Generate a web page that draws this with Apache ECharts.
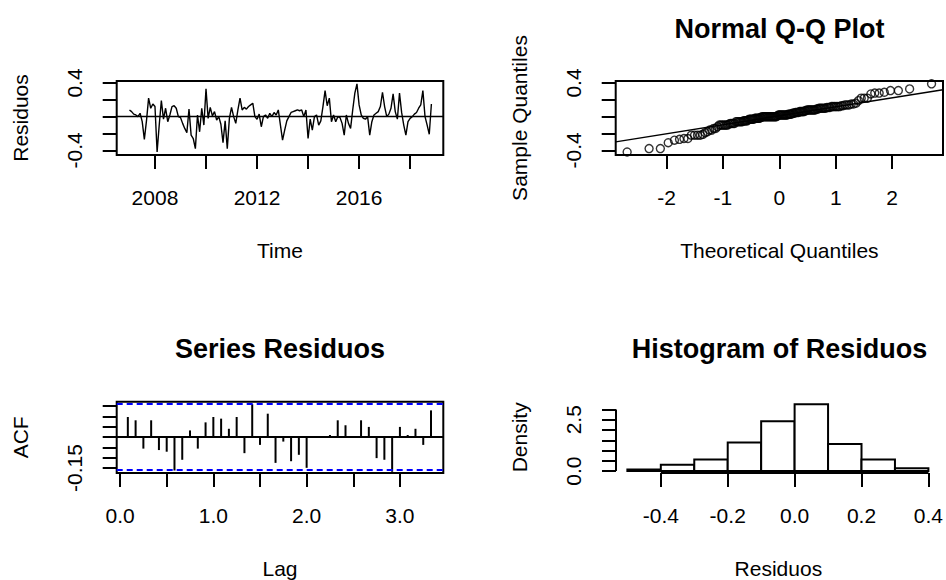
<!DOCTYPE html>
<html><head><meta charset="utf-8">
<script src="https://cdn.jsdelivr.net/npm/echarts@6/dist/echarts.min.js"></script>
<style>html,body{margin:0;padding:0;background:#fff;}#c{width:946px;height:580px;}</style>
</head><body><div id="c"></div>
<script>
// ---------------- data ----------------
const tsStart = 2007;
const tsFreq = 12;
const resid = [
 0.08, 0.06, 0.03, 0.02, 0.00, 0.04,-0.06,-0.27,-0.05, 0.22, 0.10, 0.15,
 0.12,-0.42,-0.10, 0.19,-0.03, 0.10,-0.06, 0.02, 0.12, 0.13, 0.10, 0.00,
-0.01,-0.08,-0.14,-0.19, 0.09,-0.22,-0.26,-0.38, 0.02,-0.18, 0.10,-0.10,
 0.33,-0.02, 0.11, 0.01, 0.06,-0.04, 0.00,-0.09,-0.31,-0.05,-0.38,-0.02,
 0.11, 0.00,-0.08, 0.08, 0.22, 0.08, 0.11, 0.09, 0.12, 0.14, 0.16, 0.00,
-0.03, 0.03,-0.12, 0.00, 0.02,-0.02, 0.04, 0.00, 0.05, 0.02, 0.08,-0.10,
-0.28,-0.16,-0.05, 0.00, 0.05, 0.06, 0.07, 0.08, 0.07, 0.08, 0.00, 0.08,
-0.26,-0.03,-0.16, 0.00, 0.02,-0.10,-0.05, 0.12, 0.31, 0.13, 0.22,-0.06,
 0.02,-0.06, 0.00,-0.01,-0.08,-0.22, 0.02,-0.08,-0.14, 0.08, 0.28, 0.39,
 0.14, 0.02,-0.02,-0.03, 0.00,-0.22,-0.06, 0.02, 0.04, 0.06, 0.12, 0.29,
 0.12, 0.00, 0.03, 0.10, 0.27, 0.06,-0.03, 0.28, 0.05,-0.10,-0.22,-0.06,
-0.02, 0.00, 0.03, 0.05, 0.10, 0.14, 0.31, 0.00,-0.10,-0.21, 0.15
];
const acfVals = [
 0.097, 0.081,-0.056, 0.081,-0.063,-0.071,-0.162,-0.110, 0.032,-0.056,
 0.071, 0.097, 0.089, 0.040, 0.097,-0.078, 0.159,-0.038, 0.113,-0.125,
-0.022,-0.117,-0.086,-0.149, 0.003,-0.004, 0.010, 0.081, 0.057, 0.003,
 0.081, 0.049,-0.102,-0.110,-0.168, 0.049, 0.010, 0.040,-0.038, 0.129
];
const acfCI = 0.1639;
const histBreaks = [-0.5,-0.4,-0.3,-0.2,-0.1,0.0,0.1,0.2,0.3,0.4];
const histDensity = [0.07,0.31,0.56,1.39,2.43,3.26,1.32,0.56,0.14];
const qqLineIntercept = 0.01;
const qqLineSlope = 0.107;
// tick / label values
const tsXTicks = [2008,2010,2012,2014,2016,2018];
const tsXLabels = [2008,2012,2016];
const resYTicks = [-0.4,-0.2,0,0.2,0.4];
const resYLabels = [-0.4,0.4];
const qqXTicks = [-2,-1,0,1,2];
const acfXTicks = [0,0.5,1,1.5,2,2.5,3];
const acfXLabels = [0,1,2,3];
const acfYTicks = [-0.15,-0.1,-0.05,0,0.05,0.1,0.15];
const acfYLabels = [-0.15];
const histXTicks = [-0.4,-0.2,0,0.2,0.4];
const histYTicks = [0,0.5,1,1.5,2,2.5,3];
const histYLabels = [0,2.5];

// ---------------- helpers ----------------
function qnorm(p){
 const a=[-3.969683028665376e+01,2.209460984245205e+02,-2.759285104469687e+02,1.383577518672690e+02,-3.066479806614716e+01,2.506628277459239e+00];
 const b=[-5.447609879822406e+01,1.615858368580409e+02,-1.556989798598866e+02,6.680131188771972e+01,-1.328068155288572e+01];
 const c=[-7.784894002430293e-03,-3.223964580411365e-01,-2.400758277161838e+00,-2.549671010229528e+00,4.374664141464968e+00,2.938163982698783e+00];
 const d=[7.784695709041462e-03,3.224671290700398e-01,2.445134137142996e+00,3.754408661907416e+00];
 const pl=0.02425; let q,r;
 if(p<pl){q=Math.sqrt(-2*Math.log(p));return (((((c[0]*q+c[1])*q+c[2])*q+c[3])*q+c[4])*q+c[5])/((((d[0]*q+d[1])*q+d[2])*q+d[3])*q+1);}
 if(p<=1-pl){q=p-0.5;r=q*q;return (((((a[0]*r+a[1])*r+a[2])*r+a[3])*r+a[4])*r+a[5])*q/(((((b[0]*r+b[1])*r+b[2])*r+b[3])*r+b[4])*r+1);}
 q=Math.sqrt(-2*Math.log(1-p));return -(((((c[0]*q+c[1])*q+c[2])*q+c[3])*q+c[4])*q+c[5])/((((d[0]*q+d[1])*q+d[2])*q+d[3])*q+1);
}
const FONT = '"Liberation Sans", Arial, Helvetica, sans-serif';
const tsData = resid.map((v,i)=>[tsStart + i/tsFreq, v]);
const sorted = resid.slice().sort((x,y)=>x-y);
const n = sorted.length;
const qqData = sorted.map((v,i)=>[qnorm((i+1-0.5)/n), v]);
const acfData = acfVals.map((v,i)=>[(i+1)/tsFreq, v]);
const histData = histDensity.map((d,i)=>[histBreaks[i], histBreaks[i+1], d]);

function xAx(gi, min, max, ticks, labels, fmt, name){
 return {type:'value', gridIndex:gi, min:min, max:max, position:'bottom',
  axisLine:{show:false, onZero:false}, splitLine:{show:false},
  axisTick:{show:true, length:14, inside:false, customValues:ticks, lineStyle:{color:'#000', width:2}},
  axisLabel:{show:true, customValues:labels, margin:32, color:'#000', fontSize:21, fontFamily:FONT, formatter:fmt},
  name:name, nameLocation:'middle', nameGap:85, nameTextStyle:{color:'#000', fontSize:21, fontFamily:FONT}};
}
function yAx(gi, min, max, ticks, labels, fmt, name){
 return {type:'value', gridIndex:gi, min:min, max:max, position:'left',
  axisLine:{show:false, onZero:false}, splitLine:{show:false},
  axisTick:{show:true, length:14, inside:false, customValues:ticks, lineStyle:{color:'#000', width:2}},
  axisLabel:{show:true, customValues:labels, rotate:90, margin:32, color:'#000', fontSize:21, fontFamily:FONT, formatter:fmt},
  name:name, nameLocation:'middle', nameGap:86, nameTextStyle:{color:'#000', fontSize:21, fontFamily:FONT}};
}
const f1 = v=>Number(v).toFixed(1);
const f2 = v=>Number(v).toFixed(2);
const f0 = v=>String(Math.round(v));

const tsX = [2006.5, 2019.3];
const resY = [-0.456, 0.424];
const qqX = [-2.9, 2.9];
const acfX = [-0.036, 3.465];
const acfY = [-0.174, 0.171];
const hX = [-0.534, 0.437];
const hY = [-0.095, 3.38];

const option = {
 animation:false,
 backgroundColor:'#fff',
 grid:[
  {left:116.7, top:81, width:326.6, height:74, show:true, borderColor:'#000', borderWidth:2, backgroundColor:'transparent'},
  {left:615.7, top:81, width:327.3, height:74, show:true, borderColor:'#000', borderWidth:2, backgroundColor:'transparent'},
  {left:116.7, top:401.7, width:326.6, height:72.6, show:true, borderColor:'#000', borderWidth:2, backgroundColor:'transparent'},
  {left:616, top:401.7, width:327, height:73.3, show:false}
 ],
 xAxis:[
  xAx(0, tsX[0], tsX[1], tsXTicks, tsXLabels, f0, 'Time'),
  xAx(1, qqX[0], qqX[1], qqXTicks, qqXTicks, f0, 'Theoretical Quantiles'),
  xAx(2, acfX[0], acfX[1], acfXTicks, acfXLabels, f1, 'Lag'),
  xAx(3, hX[0], hX[1], histXTicks, histXTicks, f1, 'Residuos')
 ],
 yAxis:[
  yAx(0, resY[0], resY[1], resYTicks, resYLabels, f1, 'Residuos'),
  yAx(1, resY[0], resY[1], resYTicks, resYLabels, f1, 'Sample Quantiles'),
  yAx(2, acfY[0], acfY[1], acfYTicks, acfYLabels, f2, 'ACF'),
  yAx(3, hY[0], hY[1], histYTicks, histYLabels, f1, 'Density')
 ],
 graphic:[
  {type:'text', x:779.4, y:29, style:{text:'Normal Q-Q Plot', font:'bold 27px '+FONT, fill:'#000', textAlign:'center', textVerticalAlign:'middle'}},
  {type:'text', x:280, y:349, style:{text:'Series Residuos', font:'bold 27px '+FONT, fill:'#000', textAlign:'center', textVerticalAlign:'middle'}},
  {type:'text', x:779.5, y:349, style:{text:'Histogram of Residuos', font:'bold 27px '+FONT, fill:'#000', textAlign:'center', textVerticalAlign:'middle'}}
 ],
 series:[
  {type:'line', xAxisIndex:0, yAxisIndex:0, data:tsData, showSymbol:false, lineStyle:{color:'#000', width:1.4},
   markLine:{silent:true, symbol:'none', label:{show:false}, lineStyle:{color:'#000', type:'solid', width:1.4}, data:[{yAxis:0}]}},
  {type:'scatter', xAxisIndex:1, yAxisIndex:1, data:qqData, symbol:'circle', symbolSize:8,
   itemStyle:{color:'rgba(0,0,0,0)', borderColor:'#000', borderWidth:1.4}},
  {type:'line', xAxisIndex:1, yAxisIndex:1, showSymbol:false, lineStyle:{color:'#000', width:1.4},
   data:[[qqX[0], qqLineIntercept+qqLineSlope*qqX[0]],[qqX[1], qqLineIntercept+qqLineSlope*qqX[1]]]},
  {type:'custom', xAxisIndex:2, yAxisIndex:2, data:acfData, encode:{x:0,y:1},
   renderItem:function(params, api){
    const x=api.value(0), y=api.value(1);
    const p0=api.coord([x,0]), p1=api.coord([x,y]);
    return {type:'line', shape:{x1:p0[0],y1:p0[1],x2:p1[0],y2:p1[1]}, style:{stroke:'#000', lineWidth:2}};
   },
   markLine:{silent:true, symbol:'none', label:{show:false},
    data:[
     {yAxis:0, lineStyle:{color:'#000', type:'solid', width:2}},
     {yAxis:acfCI, lineStyle:{color:'#0000ff', type:[6,4], width:2}},
     {yAxis:-acfCI, lineStyle:{color:'#0000ff', type:[6,4], width:2}}
    ]}},
  {type:'custom', xAxisIndex:3, yAxisIndex:3, data:histData, encode:{x:[0,1], y:2}, clip:false,
   renderItem:function(params, api){
    const a=api.coord([api.value(0), api.value(2)]), b=api.coord([api.value(1), 0]);
    return {type:'rect', shape:{x:a[0], y:a[1], width:b[0]-a[0], height:b[1]-a[1]}, style:{fill:'#fff', stroke:'#000', lineWidth:2}};
   }},
  {type:'line', xAxisIndex:3, yAxisIndex:3, showSymbol:false, clip:false, lineStyle:{color:'#000', width:2},
   data:[[hX[0],histYTicks[0]],[hX[0],histYTicks[histYTicks.length-1]]]},
  {type:'line', xAxisIndex:3, yAxisIndex:3, showSymbol:false, clip:false, lineStyle:{color:'#000', width:2},
   data:[[histXTicks[0],hY[0]],[histXTicks[histXTicks.length-1],hY[0]]]}
 ]
};
const chart = echarts.init(document.getElementById('c'), null, {renderer:'svg', width:946, height:580});
chart.setOption(option);
</script>
</body></html>
